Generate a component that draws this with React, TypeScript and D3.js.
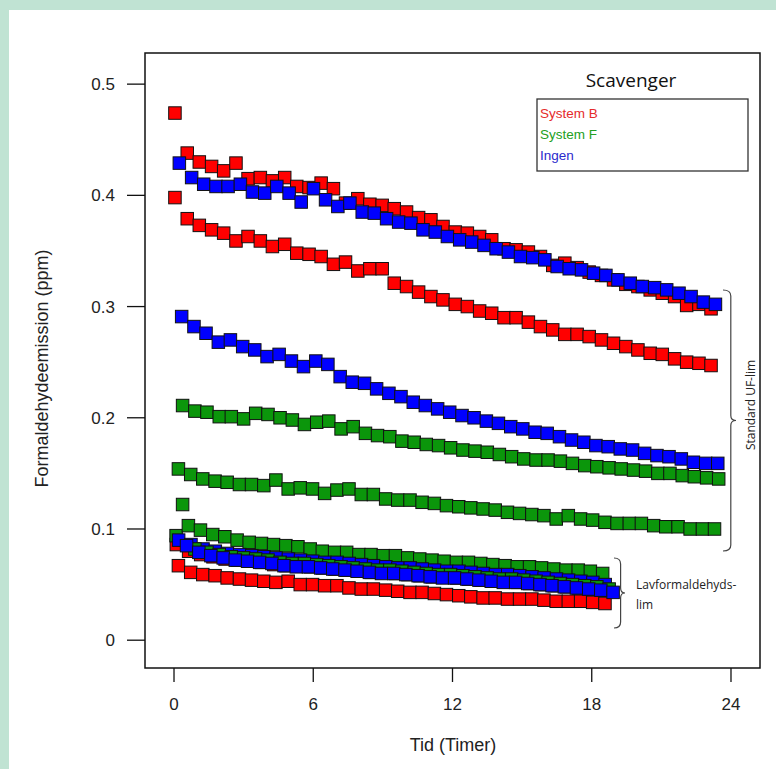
import React from 'react';
import * as d3 from 'd3';

// sampling times (hours) shared by the runs
const hours = [
  0, 0.53, 1.05, 1.58, 2.1, 2.63, 3.15, 3.68, 4.2, 4.73, 5.25, 5.78, 6.3, 6.83, 7.35,
  7.88, 8.4, 8.93, 9.45, 9.98, 10.5, 11.03, 11.55, 12.08, 12.6, 13.13, 13.65, 14.18,
  14.7, 15.23, 15.75, 16.28, 16.8, 17.33, 17.85, 18.38, 18.9, 19.43, 19.95, 20.48, 21,
  21.53, 22.05, 22.58, 23.1,
];

// System B (red)
const redStd1 = [
  0.474, 0.438, 0.43, 0.426, 0.422, 0.429, 0.415, 0.416, 0.413, 0.416, 0.408, 0.407,
  0.411, 0.406, 0.393, 0.397, 0.392, 0.391, 0.388, 0.385, 0.38, 0.378, 0.372, 0.367,
  0.366, 0.363, 0.36, 0.352, 0.351, 0.349, 0.345, 0.337, 0.339, 0.335, 0.331, 0.328,
  0.324, 0.32, 0.318, 0.315, 0.312, 0.309, 0.301, 0.302, 0.298,
];
const redStd2 = [
  0.398, 0.379, 0.373, 0.369, 0.366, 0.359, 0.363, 0.359, 0.354, 0.356, 0.348, 0.347,
  0.345, 0.338, 0.34, 0.332, 0.334, 0.334, 0.321, 0.318, 0.313, 0.309, 0.306, 0.302,
  0.3, 0.296, 0.294, 0.29, 0.29, 0.286, 0.282, 0.279, 0.275, 0.275, 0.273, 0.27, 0.267,
  0.264, 0.261, 0.258, 0.257, 0.253, 0.25, 0.249, 0.247,
];
const redLow1 = [
  0.067, 0.061, 0.059, 0.058, 0.056, 0.055, 0.054, 0.053, 0.052, 0.053, 0.05, 0.05,
  0.049, 0.049, 0.047, 0.046, 0.046, 0.045, 0.044, 0.043, 0.043, 0.042, 0.041, 0.04,
  0.039, 0.038, 0.038, 0.037, 0.037, 0.037, 0.036, 0.035, 0.035, 0.035, 0.034, 0.033,
];
// mostly hidden under the blue low-formaldehyde runs
const redLow2 = [
  0.086, 0.08, 0.077, 0.075, 0.073, 0.072, 0.071, 0.07, 0.068, 0.067, 0.067, 0.066,
  0.065, 0.064, 0.063, 0.062, 0.061, 0.061, 0.06, 0.059, 0.058, 0.057, 0.057, 0.056,
  0.055, 0.054, 0.053, 0.053, 0.052, 0.051, 0.05, 0.049, 0.048, 0.047, 0.046, 0.045,
];

// Ingen (blue)
const blueStd1 = [
  0.429, 0.416, 0.41, 0.408, 0.408, 0.41, 0.403, 0.402, 0.408, 0.402, 0.394, 0.406,
  0.396, 0.39, 0.393, 0.385, 0.384, 0.379, 0.376, 0.375, 0.369, 0.367, 0.363, 0.36,
  0.358, 0.355, 0.352, 0.349, 0.345, 0.344, 0.342, 0.336, 0.334, 0.333, 0.33, 0.328,
  0.324, 0.321, 0.318, 0.317, 0.315, 0.312, 0.309, 0.304, 0.302,
];
const blueStd2 = [
  0.291, 0.282, 0.276, 0.268, 0.27, 0.264, 0.261, 0.255, 0.257, 0.251, 0.246, 0.251,
  0.248, 0.237, 0.232, 0.231, 0.226, 0.222, 0.219, 0.214, 0.211, 0.208, 0.205, 0.202,
  0.2, 0.197, 0.195, 0.192, 0.19, 0.187, 0.186, 0.183, 0.18, 0.178, 0.175, 0.174, 0.172,
  0.171, 0.168, 0.166, 0.165, 0.163, 0.16, 0.159, 0.159,
];
const blueLow1 = [
  0.09, 0.086, 0.082, 0.08, 0.078, 0.077, 0.076, 0.075, 0.074, 0.073, 0.072, 0.071,
  0.07, 0.07, 0.069, 0.068, 0.067, 0.066, 0.065, 0.065, 0.064, 0.063, 0.062, 0.062,
  0.061, 0.06, 0.059, 0.059, 0.058, 0.057, 0.056, 0.055, 0.054, 0.053, 0.052, 0.05,
];
const blueLow2 = [
  0.085, 0.079, 0.076, 0.074, 0.072, 0.071, 0.07, 0.069, 0.067, 0.066, 0.066, 0.065,
  0.064, 0.063, 0.062, 0.061, 0.06, 0.06, 0.059, 0.058, 0.057, 0.056, 0.056, 0.055,
  0.054, 0.053, 0.052, 0.052, 0.051, 0.05, 0.049, 0.048, 0.047, 0.046, 0.045, 0.043,
];

// System F (green)
const greenStd1 = [
  0.211, 0.206, 0.205, 0.201, 0.201, 0.199, 0.204, 0.203, 0.2, 0.198, 0.194, 0.196,
  0.197, 0.19, 0.192, 0.186, 0.184, 0.183, 0.179, 0.178, 0.176, 0.175, 0.173, 0.171,
  0.17, 0.169, 0.167, 0.165, 0.163, 0.162, 0.162, 0.161, 0.159, 0.157, 0.156, 0.155,
  0.154, 0.153, 0.152, 0.15, 0.15, 0.148, 0.147, 0.146, 0.145,
];
const greenStd2 = [
  0.154, 0.149, 0.145, 0.143, 0.142, 0.14, 0.14, 0.139, 0.144, 0.136, 0.137, 0.136,
  0.132, 0.135, 0.136, 0.131, 0.131, 0.127, 0.126, 0.126, 0.124, 0.123, 0.121, 0.12,
  0.119, 0.118, 0.117, 0.115, 0.114, 0.113, 0.112, 0.109, 0.112, 0.109, 0.108, 0.106,
  0.105, 0.105, 0.105, 0.103, 0.102, 0.102, 0.1, 0.1, 0.1,
];
const greenLow1 = [
  0.094, 0.103, 0.099, 0.095, 0.093, 0.09, 0.088, 0.087, 0.086, 0.085, 0.084, 0.082,
  0.08, 0.079, 0.079, 0.077, 0.077, 0.076, 0.076, 0.074, 0.073, 0.072, 0.071, 0.07,
  0.07, 0.069, 0.068, 0.067, 0.066, 0.066, 0.065, 0.064, 0.063, 0.063, 0.062, 0.06,
];
const greenLow2 = [
  0.122, 0.082, 0.079, 0.077, 0.075, 0.074, 0.073, 0.072, 0.07, 0.069, 0.069, 0.068,
  0.067, 0.066, 0.065, 0.064, 0.063, 0.063, 0.062, 0.061, 0.06, 0.059, 0.059, 0.058,
  0.057, 0.056, 0.055, 0.055, 0.054, 0.053, 0.052, 0.051, 0.05, 0.049, 0.048, 0.046,
];

const legendNames = ['System B', 'System F', 'Ingen'];
const xTicks = [0, 6, 12, 18, 24];
const yTicks = [0, 0.1, 0.2, 0.3, 0.4, 0.5];

const RED = '#ff0000';
const GREEN = '#0b960b';
const BLUE = '#0000ff';
const legendColors = ['#e52b2b', '#22a022', '#2a2acc'];

// draw order matters: later runs sit on top
const runs = [
  { values: redStd1, start: 0.04, color: RED },
  { values: redStd2, start: 0.04, color: RED },
  { values: blueStd1, start: 0.23, color: BLUE },
  { values: blueStd2, start: 0.33, color: BLUE },
  { values: greenStd1, start: 0.37, color: GREEN },
  { values: greenStd2, start: 0.19, color: GREEN },
  { values: redLow2, start: 0.1, color: RED },
  { values: redLow1, start: 0.19, color: RED },
  { values: greenLow1, start: 0.09, color: GREEN },
  { values: blueLow1, start: 0.2, color: BLUE },
  { values: greenLow2, start: 0.37, color: GREEN },
  { values: blueLow2, start: 0.54, color: BLUE },
];

const W = 776;
const H = 769;
const plot = { left: 145, right: 760, top: 53, bottom: 668 };
const SIZE = 12.5;
const sans = '"Liberation Sans", Arial, sans-serif';
const soft = '"Open Sans", "Noto Sans", sans-serif';

export default function App() {
  const x = d3.scaleLinear().domain([-1.25, 25.25]).range([plot.left, plot.right]);
  const y = d3.scaleLinear().domain([-0.025, 0.528]).range([plot.bottom, plot.top]);
  const yFmt = (d: number) => (d === 0 ? '0' : d3.format('.1f')(d));

  const brace = (xa: number, y0: number, y1: number, w: number) => {
    const ym = (y0 + y1) / 2;
    const p = d3.path();
    p.moveTo(xa, y0);
    p.quadraticCurveTo(xa + w * 0.6, y0, xa + w * 0.6, y0 + 6);
    p.lineTo(xa + w * 0.6, ym - 5);
    p.quadraticCurveTo(xa + w * 0.6, ym, xa + w, ym);
    p.quadraticCurveTo(xa + w * 0.6, ym, xa + w * 0.6, ym + 5);
    p.lineTo(xa + w * 0.6, y1 - 6);
    p.quadraticCurveTo(xa + w * 0.6, y1, xa, y1);
    return p.toString();
  };

  return (
    <div style={{ position: 'absolute', left: 0, top: 0 }}>
      <svg width={W} height={H} style={{ display: 'block' }}>
        <rect width={W} height={H} fill="#c0e3d3" />
        <rect x={9} y={10} width={W - 9} height={H - 10} fill="#ffffff" />

        {runs.map((r, ri) => (
          <g key={ri}>
            {r.values.map((v, i) => (
              <rect
                key={i}
                x={x(hours[i] + r.start) - SIZE / 2}
                y={y(v) - SIZE / 2}
                width={SIZE}
                height={SIZE}
                fill={r.color}
                stroke="#111"
                strokeWidth={1}
              />
            ))}
          </g>
        ))}

        <rect
          x={plot.left}
          y={plot.top}
          width={plot.right - plot.left}
          height={plot.bottom - plot.top}
          fill="none"
          stroke="#111"
          strokeWidth={1.5}
        />

        {yTicks.map((t) => (
          <g key={t}>
            <line x1={127} x2={plot.left} y1={y(t)} y2={y(t)} stroke="#111" strokeWidth={1.3} />
            <text x={115} y={y(t)} dy="0.35em" textAnchor="end" fontFamily={sans} fontSize={17} fill="#222">
              {yFmt(t)}
            </text>
          </g>
        ))}
        {xTicks.map((t) => (
          <g key={t}>
            <line x1={x(t)} x2={x(t)} y1={plot.bottom} y2={plot.bottom + 14} stroke="#111" strokeWidth={1.3} />
            <text x={x(t)} y={710} textAnchor="middle" fontFamily={sans} fontSize={17} fill="#222">
              {t}
            </text>
          </g>
        ))}

        <text x={453} y={751} textAnchor="middle" fontFamily={sans} fontSize={18} fill="#222">
          Tid (Timer)
        </text>
        <text
          transform={`translate(48, ${(plot.top + plot.bottom) / 2 + 8}) rotate(-90)`}
          textAnchor="middle"
          fontFamily={sans}
          fontSize={18}
          fill="#222"
        >
          Formaldehydeemission (ppm)
        </text>

        {/* legend */}
        <text x={631} y={87} textAnchor="middle" fontFamily={soft} fontSize={19} fill="#111">
          Scavenger
        </text>
        <rect x={537} y={99} width={211} height={72} fill="#fff" stroke="#333" strokeWidth={1.3} />
        {legendNames.map((n, i) => (
          <text key={n} x={540} y={118 + i * 21} fontFamily={sans} fontSize={13.5} fill={legendColors[i]}>
            {n}
          </text>
        ))}

        {/* brackets */}
        <path d={brace(723, 290, 551, 13)} fill="none" stroke="#444" strokeWidth={1.2} />
        <text
          transform="translate(755, 405) rotate(-90)"
          textAnchor="middle"
          fontFamily={soft}
          fontSize={12}
          fill="#222"
        >
          Standard UF-lim
        </text>
        <path d={brace(614, 558, 628, 11)} fill="none" stroke="#444" strokeWidth={1.2} />
        <text x={636} y={589} fontFamily={soft} fontSize={12} fill="#222">
          Lavformaldehyds-
        </text>
        <text x={636} y={609} fontFamily={soft} fontSize={12} fill="#222">
          lim
        </text>
      </svg>
    </div>
  );
}
